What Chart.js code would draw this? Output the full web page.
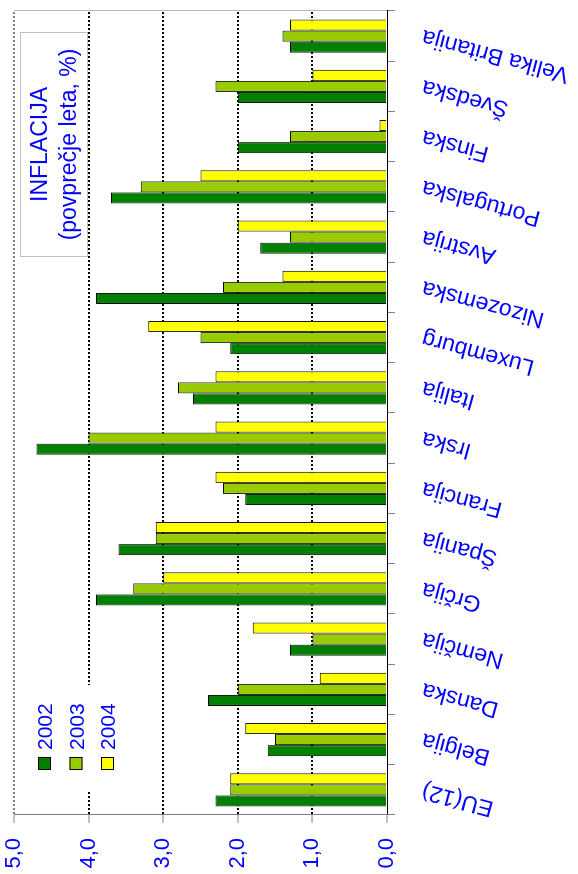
<!DOCTYPE html>
<html><head><meta charset="utf-8">
<script src="https://cdn.jsdelivr.net/npm/chart.js@4.4.0/dist/chart.umd.min.js"></script>
<style>
html,body{margin:0;padding:0;background:#fff;overflow:hidden;width:578px;height:874px;}
#wrap{position:absolute;left:0;top:0;width:874px;height:578px;transform-origin:0 0;transform:translate(0,874px) rotate(-90deg);}
canvas{display:block;}
</style></head><body>
<div id="wrap"><canvas id="c" width="874" height="578"></canvas></div>
<script>
const categories = ['EU(12)','Belgija','Danska','Nemčija','Grčija','Španija','Francija','Irska','Italija','Luxemburg','Nizozemska','Avstrija','Portugalska','Finska','Švedska','Velika Britanija'];
const years = ['2002','2003','2004'];
const infl2002 = [2.3,1.6,2.4,1.3,3.9,3.6,1.9,4.7,2.6,2.1,3.9,1.7,3.7,2.0,2.0,1.3];
const infl2003 = [2.1,1.5,2.0,1.0,3.4,3.1,2.2,4.0,2.8,2.5,2.2,1.3,3.3,1.3,2.3,1.4];
const infl2004 = [2.1,1.9,0.9,1.8,3.0,3.1,2.3,2.3,2.3,3.2,1.4,2.0,2.5,0.1,1.0,1.3];
const valueTicks = ['0,0','1,0','2,0','3,0','4,0','5,0'];
const titleLines = ['INFLACIJA','(povprečje leta, %)'];
const seriesColors = ['#008000','#99CC00','#FFFF00'];

const FONT = "'Liberation Sans', Arial, sans-serif";
const BLUE = '#0000FF';

const annotPlugin = {
  id: 'annot',
  afterDraw(chart) {
    const ctx = chart.ctx, a = chart.chartArea;
    ctx.save();
    // legend (white backing, no border)
    ctx.fillStyle = '#fff';
    ctx.fillRect(a.left + 25, a.top + 8, 105, 100);
    const rows = [30.5, 62, 93.5];
    chart.data.datasets.forEach((ds, i) => {
      const cy = a.top + rows[i];
      ctx.fillStyle = ds.backgroundColor;
      ctx.fillRect(a.left + 45, cy - 6.5, 13, 13);
      ctx.strokeStyle = '#000';
      ctx.lineWidth = 1;
      ctx.strokeRect(a.left + 45.5, cy - 6, 12, 12);
      ctx.fillStyle = BLUE;
      ctx.font = '21px ' + FONT;
      ctx.textAlign = 'left';
      ctx.textBaseline = 'alphabetic';
      ctx.fillText(ds.label, a.left + 65, cy + 7.5);
    });
    // title box
    const bx = a.right - 246, by = a.top + 6, bw = 225, bh = 68;
    ctx.fillStyle = '#fff';
    ctx.fillRect(bx, by, bw, bh);
    ctx.strokeStyle = '#c0c0c0';
    ctx.lineWidth = 1;
    ctx.strokeRect(bx + 0.5, by + 0.5, bw - 1, bh - 1);
    ctx.fillStyle = BLUE;
    ctx.font = '23px ' + FONT;
    ctx.textAlign = 'center';
    ctx.fillText(titleLines[0], bx + bw / 2, by + 27);
    ctx.fillText(titleLines[1], bx + bw / 2, by + 56);
    ctx.restore();
  }
};

function noPad(s) { s.paddingTop = 0; s.paddingBottom = 0; s.paddingLeft = 0; s.paddingRight = 0; }

new Chart(document.getElementById('c'), {
  type: 'bar',
  data: {
    labels: categories,
    datasets: [
      {label: years[0], data: infl2002, backgroundColor: seriesColors[0], borderColor: '#000', borderWidth: 1},
      {label: years[1], data: infl2003, backgroundColor: seriesColors[1], borderColor: '#000', borderWidth: 1},
      {label: years[2], data: infl2004, backgroundColor: seriesColors[2], borderColor: '#000', borderWidth: 1}
    ]
  },
  options: {
    responsive: false,
    animation: false,
    devicePixelRatio: 1,
    categoryPercentage: 0.66,
    barPercentage: 1.0,
    layout: {padding: {left: 0, right: 11, top: 14, bottom: 0}},
    plugins: {legend: {display: false}, tooltip: {enabled: false}, title: {display: false}},
    scales: {
      x: {
        type: 'category',
        offset: true,
        afterFit(s) { s.height = 191; noPad(s); },
        grid: {
          display: true,
          offset: true,
          drawOnChartArea: true,
          lineWidth: 1,
          color: (c) => (c.type === 'scale' || c.index === undefined) ? '#b8b8b8' : 'rgba(0,0,0,0)',
          tickColor: '#808080',
          tickLength: 8
        },
        border: {display: true, color: '#000', width: 1, dash: []},
        ticks: {
          autoSkip: false,
          minRotation: 75,
          maxRotation: 75,
          padding: 24,
          color: BLUE,
          font: {family: FONT, size: 23}
        }
      },
      y: {
        type: 'linear',
        min: 0,
        max: 5,
        afterFit(s) { s.width = 59; noPad(s); },
        grid: {
          lineWidth: 2,
          color: (c) => c.tick.value === 0 ? 'rgba(0,0,0,0)' : (c.tick.value === 5 ? '#808080' : '#000'),
          tickColor: '#808080',
          tickWidth: 1,
          tickLength: 8
        },
        border: {display: true, color: '#808080', width: 1, dash: [2, 2]},
        ticks: {
          stepSize: 1,
          padding: 15,
          color: BLUE,
          font: {family: FONT, size: 22},
          callback: (v, i) => valueTicks[i]
        }
      }
    }
  },
  plugins: [annotPlugin]
});
</script>
</body></html>
